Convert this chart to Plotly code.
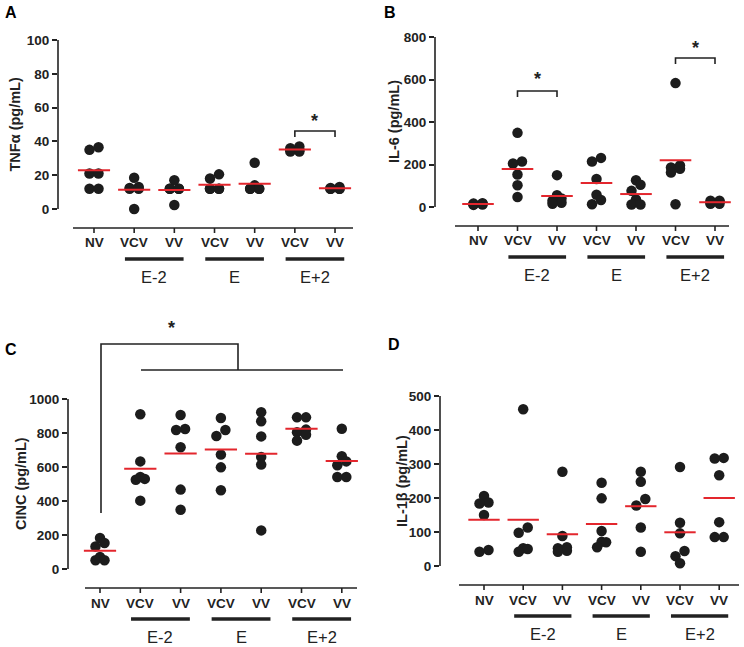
import plotly.graph_objects as go

# categories along the x axis and the group bars under them
cats = ["NV", "VCV", "VV", "VCV", "VV", "VCV", "VV"]
groups = ["E-2", "E", "E+2"]
group_pairs = [(1, 2), (3, 4), (5, 6)]

# values, 6 animals per column (pg/mL)
tnfa = [[35, 36.5, 21, 21, 12, 12],
        [18.5, 13, 12.5, 12, 12, 0],
        [17, 12, 12, 12, 12, 2.4],
        [20.5, 18, 12, 12, 12, 12],
        [27.4, 14, 12, 12, 12, 12],
        [35, 36, 37, 34, 34, 35],
        [12, 12.5, 13, 12, 12, 12]]
il6 = [[10, 12, 14, 15, 16, 18],
       [349, 214, 205, 153, 102, 47],
       [150, 55, 40, 30, 20, 15],
       [231, 214, 132, 58, 33, 13],
       [126, 105, 76, 35, 12, 12],
       [583, 195, 186, 180, 162, 13],
       [30, 30, 25, 20, 15, 15]]
cinc = [[182, 153, 133, 71, 51, 51],
        [910, 633, 541, 530, 525, 402],
        [906, 824, 818, 716, 467, 349],
        [888, 818, 782, 673, 598, 463],
        [922, 869, 780, 659, 614, 227],
        [892, 892, 820, 804, 790, 755],
        [825, 663, 633, 610, 541, 541]]
il1b = [[206, 187, 184, 150, 47, 42],
        [461, 113, 98, 52, 50, 42],
        [277, 88, 55, 52, 45, 42],
        [245, 199, 103, 71, 70, 55],
        [277, 248, 197, 178, 113, 42],
        [291, 127, 96, 44, 29, 8],
        [318, 316, 267, 129, 85, 85]]

W, H = 744, 647
INK = "#222222"
RED = "#e3262d"
FONT = "Liberation Sans, Arial, sans-serif"

# pixel geometry of each panel
panels = [
    dict(letter="A", title="TNFα (pg/mL)", data=tnfa, ymax=100, dt=20,
         ax=58, c0=94, sp=40.17, right=362, zero=209, top=40, topdom=28, bot=295,
         b0=73, b1=353, title_x=15, letter_xy=(11, 12)),
    dict(letter="B", title="IL-6 (pg/mL)", data=il6, ymax=800, dt=200,
         ax=435, c0=478, sp=39.5, right=740, zero=207, top=37, topdom=28, bot=295,
         b0=455, b1=729, title_x=394, letter_xy=(390, 12)),
    dict(letter="C", title="CINC (pg/mL)", data=cinc, ymax=1000, dt=200,
         ax=68, c0=100, sp=40.3, right=362, zero=569, top=399, topdom=305, bot=645,
         b0=85, b1=357, title_x=21, letter_xy=(11, 349)),
    dict(letter="D", title="IL-1β (pg/mL)", data=il1b, ymax=500, dt=100,
         ax=440, c0=484, sp=39.2, right=742, zero=566, top=396, topdom=330, bot=645,
         b0=459, b1=739, title_x=402, letter_xy=(394, 344)),
]


def swarm(vals, s, sp, d=9.0, thr=7.0, maxrow=2):
    # simple column-scatter spreading: near-equal values share a row
    order = sorted(range(len(vals)), key=lambda k: vals[k])
    rows = []
    for k in order:
        if rows and len(rows[-1]) < maxrow and (vals[k] - vals[rows[-1][0]]) * s < thr:
            rows[-1].append(k)
        else:
            rows.append([k])
    off = [0.0] * len(vals)
    for r in rows:
        n = len(r)
        for j, k in enumerate(r):
            off[k] = (j - (n - 1) / 2) * d / sp
    return off


fig = go.Figure()
shapes = []
annots = []
line = dict(color=INK, width=1.6)

for i, p in enumerate(panels):
    n = "" if i == 0 else str(i + 1)
    xa, ya = "x" + n, "y" + n
    s = (p["zero"] - p["top"]) / p["ymax"]       # px per unit
    yv = lambda px, p=p, s=s: (p["zero"] - px) / s
    xv = lambda px, p=p: (px - p["c0"]) / p["sp"]

    fig.update_layout({
        "xaxis" + n: dict(domain=[p["ax"] / W, p["right"] / W],
                          range=[xv(p["ax"]), xv(p["right"])],
                          visible=False, anchor=ya),
        "yaxis" + n: dict(domain=[1 - p["bot"] / H, 1 - p["topdom"] / H],
                          range=[yv(p["bot"]), yv(p["topdom"])],
                          anchor=xa, showline=False, showgrid=False, zeroline=False,
                          tickvals=list(range(0, p["ymax"] + 1, p["dt"])),
                          ticks="outside", ticklen=5, tickwidth=1.6, tickcolor=INK,
                          tickfont=dict(family=FONT, size=13.5, color=INK, weight="bold")),
    })

    # y axis line from 0 to max
    shapes.append(dict(type="line", xref=xa + " domain", yref=ya, x0=0, x1=0,
                       y0=0, y1=p["ymax"], line=line))
    # x baseline with category ticks
    by = yv(p["zero"] + 19)
    shapes.append(dict(type="line", xref=xa, yref=ya, x0=xv(p["b0"]), x1=xv(p["b1"]),
                       y0=by, y1=by, line=line))
    for k, c in enumerate(cats):
        shapes.append(dict(type="line", xref=xa, yref=ya, x0=k, x1=k,
                           y0=by, y1=yv(p["zero"] + 24), line=line))
        annots.append(dict(xref=xa, yref=ya, x=k, y=yv(p["zero"] + 34), text=c,
                           showarrow=False, yanchor="middle",
                           font=dict(family=FONT, size=13.5, color=INK, weight="bold")))
    for (a, b), g in zip(group_pairs, groups):
        gy = yv(p["zero"] + 50)
        shapes.append(dict(type="line", xref=xa, yref=ya, x0=a - 0.23, x1=b + 0.23,
                           y0=gy, y1=gy, line=dict(color=INK, width=3.5)))
        annots.append(dict(xref=xa, yref=ya, x=(a + b) / 2, y=yv(p["zero"] + 68),
                           text=g, showarrow=False, yanchor="middle",
                           font=dict(family=FONT, size=16.5, color=INK)))

    # y title and panel letter
    annots.append(dict(xref="paper", yref=ya, x=p["title_x"] / W, y=p["ymax"] / 2,
                       text=p["title"], textangle=-90, showarrow=False,
                       xanchor="center", yanchor="middle",
                       font=dict(family=FONT, size=14.5, color=INK, weight="bold")))
    lx, ly = p["letter_xy"]
    annots.append(dict(xref="paper", yref="paper", x=lx / W, y=1 - ly / H,
                       text=p["letter"], showarrow=False, xanchor="center", yanchor="middle",
                       font=dict(family=FONT, size=16, color="#000", weight="bold")))

    # dots and means
    xs, ys, mx, my = [], [], [], []
    for k, vals in enumerate(p["data"]):
        off = swarm(vals, s, p["sp"])
        xs += [k + o for o in off]
        ys += vals
        m = sum(vals) / len(vals)
        mx += [k - 0.4, k + 0.4, None]
        my += [m, m, None]
    fig.add_trace(go.Scatter(x=xs, y=ys, mode="markers", xaxis=xa, yaxis=ya,
                             marker=dict(size=10.5, color="#1c1c1c", line=dict(width=0)),
                             showlegend=False, hoverinfo="y"))
    fig.add_trace(go.Scatter(x=mx, y=my, mode="lines", xaxis=xa, yaxis=ya,
                             line=dict(color=RED, width=2), showlegend=False,
                             hoverinfo="skip"))

    # significance brackets
    def bracket(a, b, ypx, drop, star_px):
        y0, y1 = yv(ypx), yv(ypx + drop)
        shapes.append(dict(type="path", xref=xa, yref=ya,
                           path=f"M {a},{y1} L {a},{y0} L {b},{y0} L {b},{y1}",
                           line=line))
        annots.append(dict(xref=xa, yref=ya, x=(a + b) / 2, y=yv(star_px), text="*",
                           showarrow=False, yanchor="middle",
                           font=dict(family=FONT, size=18, color=INK, weight="bold")))

    if p["letter"] == "A":
        bracket(5, 6, 131, 6, 121)
    if p["letter"] == "B":
        bracket(1, 2, 91, 6, 79)
        bracket(5, 6, 58, 6, 48)
    if p["letter"] == "C":
        top_y, low_y = yv(344), yv(370)
        xa0 = xv(101)
        xj = xv(238)
        shapes.append(dict(type="path", xref=xa, yref=ya,
                           path=f"M {xa0},{yv(513)} L {xa0},{top_y} L {xj},{top_y} L {xj},{low_y}",
                           line=line))
        shapes.append(dict(type="line", xref=xa, yref=ya, x0=xv(141), x1=xv(343),
                           y0=low_y, y1=low_y, line=line))
        annots.append(dict(xref=xa, yref=ya, x=xv(171), y=yv(328), text="*",
                           showarrow=False, yanchor="middle",
                           font=dict(family=FONT, size=18, color=INK, weight="bold")))

fig.update_layout(width=W, height=H, margin=dict(l=0, r=0, t=0, b=0),
                  paper_bgcolor="white", plot_bgcolor="white",
                  shapes=shapes, annotations=annots)

# the page body has a default 8px margin; drop it so the figure sits at 0,0
fig.write_html("out.html", config={"displayModeBar": False},
               post_script="document.body.style.margin='0px';")
